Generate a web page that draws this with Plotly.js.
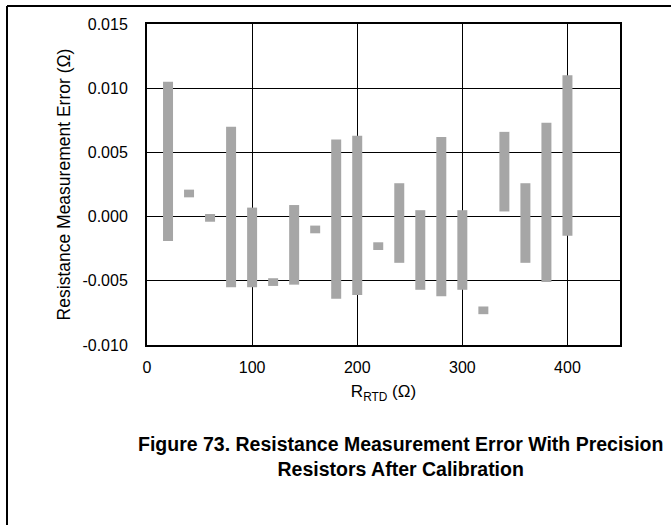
<!DOCTYPE html>
<html>
<head>
<meta charset="utf-8">
<script src="https://cdn.plot.ly/plotly-3.0.1.min.js"></script>
<style>
html,body{margin:0;padding:0;background:#fff;}
#chart{width:671px;height:525px;}
</style>
</head>
<body>
<div id="chart"></div>
<script>
// R_RTD values (Ω)
var rtd = [20, 40, 60, 80, 100, 120, 140, 160, 180, 200, 220, 240, 260, 280, 300, 320, 340, 360, 380, 400];
// Lower end of error range (Ω)
var errLow = [-0.0019, 0.0015, -0.0004, -0.0055, -0.0055, -0.0054, -0.0053, -0.0013, -0.0064, -0.0061, -0.0026, -0.0036, -0.0057, -0.0062, -0.0057, -0.0076, 0.0004, -0.0036, -0.0051, -0.0015];
// Upper end of error range (Ω)
var errHigh = [0.0105, 0.0021, 0.0002, 0.0070, 0.0007, -0.0048, 0.0009, -0.0007, 0.0060, 0.0063, -0.0020, 0.0026, 0.0005, 0.0062, 0.0005, -0.0070, 0.0066, 0.0026, 0.0073, 0.0110];
var yTicks = [-0.010, -0.005, 0.000, 0.005, 0.010, 0.015];
var yTickText = ["-0.010", "-0.005", "0.000", "0.005", "0.010", "0.015"];
var xTicks = [0, 100, 200, 300, 400];

var span = errHigh.map(function (h, i) { return h - errLow[i]; });

var font = "Liberation Sans, Arial, sans-serif";

var trace = {
  type: "bar",
  x: rtd,
  y: span,
  base: errLow,
  width: 9.5,
  marker: {color: "#a6a6a6", line: {width: 0}},
  hoverinfo: "x+y"
};

var layout = {
  width: 671,
  height: 525,
  margin: {l: 147, r: 51, t: 24, b: 180, pad: 0},
  paper_bgcolor: "#ffffff",
  plot_bgcolor: "#ffffff",
  showlegend: false,
  font: {family: font, size: 16, color: "#000"},
  xaxis: {
    range: [0, 450],
    tickvals: xTicks,
    ticktext: xTicks.map(String),
    ticks: "",
    ticklabelstandoff: 7,
    showgrid: true,
    gridcolor: "#000",
    gridwidth: 1,
    zeroline: false,
    showline: true,
    linecolor: "#000",
    linewidth: 2,
    mirror: true,
    tickfont: {family: font, size: 16, color: "#000"},
    title: {text: "R<sub>RTD</sub> (Ω)", font: {family: font, size: 17, color: "#000"}, standoff: 10}
  },
  yaxis: {
    range: [-0.010, 0.015],
    tickvals: yTicks,
    ticktext: yTickText,
    ticks: "",
    ticklabelstandoff: 14,
    showgrid: true,
    gridcolor: "#000",
    gridwidth: 1,
    zeroline: true,
    zerolinecolor: "#000",
    zerolinewidth: 1,
    showline: true,
    linecolor: "#000",
    linewidth: 2,
    mirror: true,
    tickfont: {family: font, size: 16, color: "#000"},
    title: {text: "Resistance Measurement Error (Ω)", font: {family: font, size: 17.5, color: "#000"}, standoff: 7}
  },
  shapes: [
    {type: "line", xref: "paper", yref: "paper", x0: -140 / 473, x1: 51 / 473 + 1, y0: 1 + 18 / 321, y1: 1 + 18 / 321, line: {color: "#000", width: 2}},
    {type: "line", xref: "paper", yref: "paper", x0: -140 / 473, x1: -140 / 473, y0: 1 + 18 / 321, y1: -180 / 321, line: {color: "#000", width: 2}}
  ],
  annotations: [
    {
      xref: "paper", yref: "paper",
      x: (400 - 147) / 473, y: (345 - 456) / 321,
      xanchor: "center", yanchor: "middle",
      showarrow: false,
      align: "center",
      text: "<b>Figure 73. Resistance Measurement Error With Precision<br>Resistors After Calibration</b>",
      font: {family: font, size: 19.5, color: "#000"}
    }
  ]
};

Plotly.newPlot("chart", [trace], layout, {displayModeBar: false, staticPlot: true});
</script>
</body>
</html>
